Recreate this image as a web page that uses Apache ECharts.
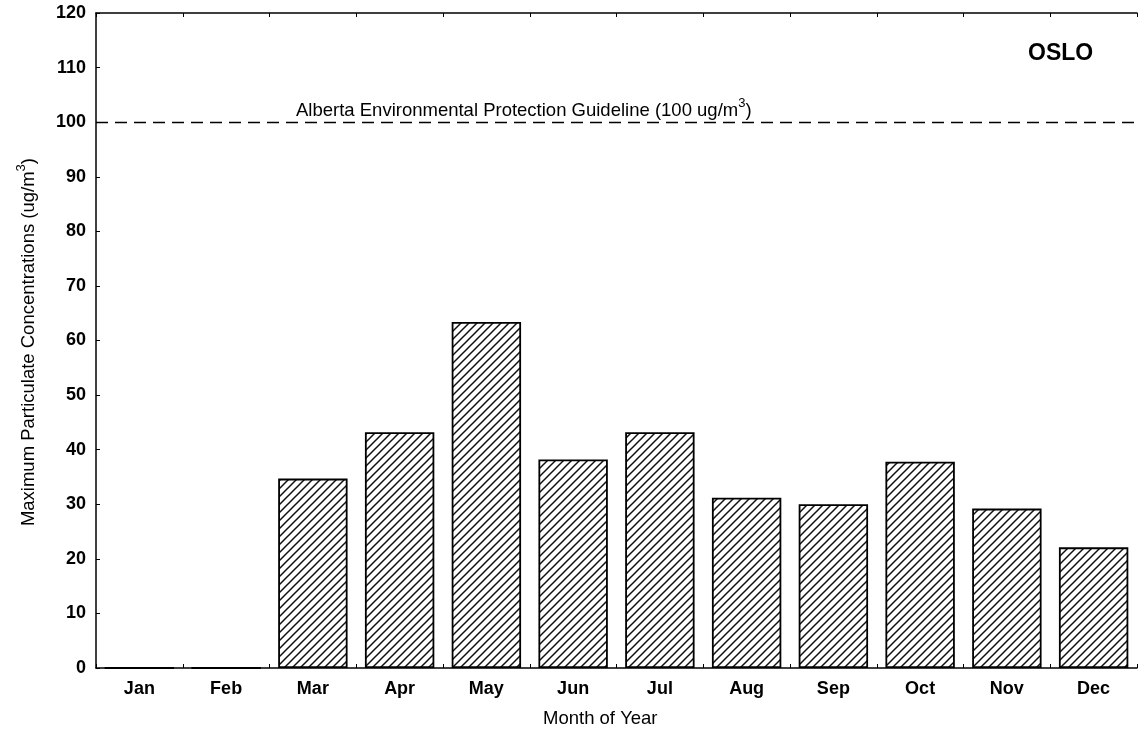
<!DOCTYPE html>
<html>
<head>
<meta charset="utf-8">
<script src="https://cdn.jsdelivr.net/npm/echarts@6/dist/echarts.min.js"></script>
<style>
html,body{margin:0;padding:0;background:#fff;}
#main{width:1138px;height:734px;}
</style>
</head>
<body>
<div id="main"></div>
<script>
var categories = ['Jan','Feb','Mar','Apr','May','Jun','Jul','Aug','Sep','Oct','Nov','Dec'];
var maxConc = [0, 0, 34.7, 43.2, 63.4, 38.2, 43.2, 31.2, 30.0, 37.8, 29.2, 22.1];
var guideline = 100;

function hatch() {
  var s = 8;
  var c = document.createElement('canvas');
  c.width = s; c.height = s;
  var g = c.getContext('2d');
  g.fillStyle = '#fff';
  g.fillRect(0,0,s,s);
  g.strokeStyle = '#111';
  g.lineWidth = 1.5;
  g.beginPath();
  g.moveTo(-1, s+1); g.lineTo(s+1, -1);
  g.moveTo(-1, 1); g.lineTo(1, -1);
  g.moveTo(s-1, s+1); g.lineTo(s+1, s-1);
  g.stroke();
  return c;
}

var font = 'Liberation Sans, Arial, sans-serif';
var chart = echarts.init(document.getElementById('main'));
chart.setOption({
  animation: false,
  backgroundColor: '#fff',
  textStyle: {fontFamily: font},
  grid: {left: 96, right: 1, top: 13, bottom: 66, show: false},
  xAxis: [{
    type: 'category', data: categories, position: 'bottom',
    axisLine: {onZero: false, lineStyle: {color: '#000', width: 1.5}},
    axisTick: {show: true, inside: true, length: 4, lineStyle: {color: '#000'}},
    axisLabel: {color: '#000', fontWeight: 'bold', fontSize: 18, margin: 12, fontFamily: font}
  }, {
    type: 'category', data: categories, position: 'top',
    axisLine: {onZero: false, lineStyle: {color: '#000', width: 1.5}},
    axisTick: {show: true, inside: true, length: 4, lineStyle: {color: '#000'}},
    axisLabel: {show: false}
  }],
  yAxis: [{
    type: 'value', min: 0, max: 120, interval: 10,
    axisLine: {show: true, onZero: false, lineStyle: {color: '#000', width: 1.5}},
    axisTick: {show: true, inside: true, length: 4, lineStyle: {color: '#000'}},
    splitLine: {show: false},
    axisLabel: {color: '#000', fontWeight: 'bold', fontSize: 18, margin: 10, fontFamily: font}
  }],
  graphic: [{
    type: 'text', left: 1028, top: 42,
    style: {text: 'OSLO', font: 'bold 23px ' + font, fill: '#000'}
  }, {
    type: 'text', left: 296, top: 97,
    style: {
      text: '{a|Alberta Environmental Protection Guideline (100 ug/m}{s|3}{a|)}',
      fill: '#000',
      rich: {
        a: {fontSize: 18.5, fontFamily: font, fill: '#000'},
        s: {fontSize: 13, fontFamily: font, fill: '#000', padding: [0,0,14,0]}
      }
    }
  }, {
    type: 'text', left: 15, top: 158, rotation: Math.PI/2,
    style: {
      text: '{a|Maximum Particulate Concentrations (ug/m}{s|3}{a|)}',
      fill: '#000',
      rich: {
        a: {fontSize: 18.5, fontFamily: font, fill: '#000'},
        s: {fontSize: 13, fontFamily: font, fill: '#000', padding: [0,0,14,0]}
      }
    }
  }, {
    type: 'text', left: 543, top: 709,
    style: {text: 'Month of Year', font: '18.5px ' + font, fill: '#000'}
  }],
  series: [{
    type: 'bar', data: maxConc, barCategoryGap: '20%',
    itemStyle: {color: {image: hatch(), repeat: 'repeat'}, borderColor: '#000', borderWidth: 1.8},
    markLine: {
      symbol: 'none', silent: true,
      lineStyle: {color: '#000', type: [12, 7], width: 1.3},
      label: {show: false},
      data: [{yAxis: guideline}]
    }
  }]
});
</script>
</body>
</html>
